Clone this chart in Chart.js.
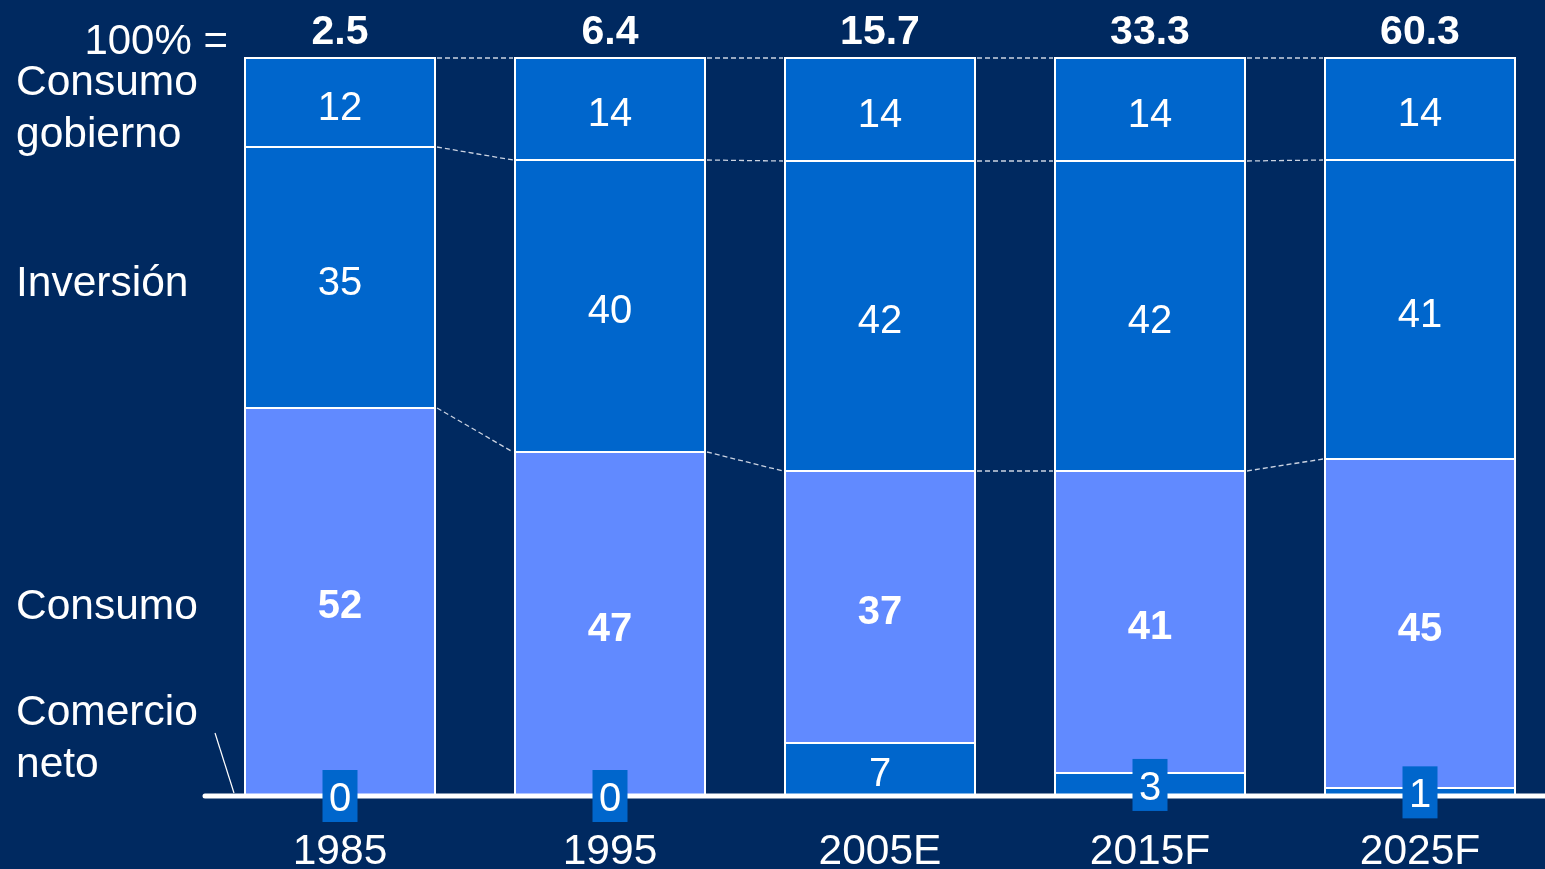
<!DOCTYPE html>
<html>
<head>
<meta charset="utf-8">
<script src="https://cdn.jsdelivr.net/npm/chart.js@4/dist/chart.umd.min.js"></script>
<style>
  html, body { margin: 0; padding: 0; background: #002960; overflow: hidden; }
  #wrap { width: 1560px; height: 869px; position: relative; }
</style>
</head>
<body>
<div id="wrap"><canvas id="c" width="1560" height="869"></canvas></div>
<script>
// ---- Data ----
const categories = ['1985', '1995', '2005E', '2015F', '2025F'];
const totals = ['2.5', '6.4', '15.7', '33.3', '60.3'];
const comercioNeto = [0, 0, 7, 3, 1];
const consumo = [52, 47, 37, 41, 45];
const inversion = [35, 40, 42, 42, 41];
const consumoGobierno = [12, 14, 14, 14, 14];
const seriesNames = ['Comercio neto', 'Consumo', 'Inversión', 'Consumo gobierno'];

const rawSeries = [comercioNeto, consumo, inversion, consumoGobierno];
// 100% stacked: each column scaled to its own sum
const colSums = categories.map((_, i) => rawSeries.reduce((s, arr) => s + arr[i], 0));
const share = rawSeries.map(arr => arr.map((v, i) => v / colSums[i] * 100));

const DARK = '#0066CC';
const LIGHT = '#618AFF';
const FONT = '"Liberation Sans", Arial, sans-serif';

const colors = [DARK, LIGHT, DARK, DARK];

const overlay = {
  id: 'overlay',
  afterDatasetsDraw(chart) {
    const ctx = chart.ctx;
    const x = chart.scales.x;
    const y = chart.scales.y;
    const metas = [0, 1, 2, 3].map(i => chart.getDatasetMeta(i));
    ctx.save();

    // crisp white segment boundaries
    ctx.strokeStyle = '#FFFFFF';
    ctx.lineWidth = 2;
    for (let d = 0; d < 4; d++) {
      metas[d].data.forEach(bar => {
        const yy = Math.round(bar.y);
        ctx.beginPath();
        ctx.moveTo(bar.x - bar.width / 2, yy);
        ctx.lineTo(bar.x + bar.width / 2, yy);
        ctx.stroke();
      });
    }

    // dashed connectors between bars (top, gov/inv, inv/cons)
    ctx.strokeStyle = 'rgba(225,230,240,0.9)';
    ctx.lineWidth = 1.3;
    ctx.setLineDash([5, 3]);
    const levels = [3, 2, 1];
    for (let i = 0; i < categories.length - 1; i++) {
      for (const d of levels) {
        const a = metas[d].data[i];
        const b = metas[d].data[i + 1];
        const ax = a.x + a.width / 2, bx = b.x - b.width / 2;
        ctx.beginPath();
        ctx.moveTo(ax + 1, Math.round(a.y));
        ctx.lineTo(bx - 1, Math.round(b.y));
        ctx.stroke();
      }
    }
    ctx.setLineDash([]);

    // axis line
    const base = y.getPixelForValue(0);
    ctx.strokeStyle = '#FFFFFF';
    ctx.lineWidth = 5;
    ctx.lineCap = 'round';
    ctx.beginPath();
    ctx.moveTo(205, base + 1);
    ctx.lineTo(chart.width, base + 1);
    ctx.stroke();
    ctx.lineCap = 'butt';

    // leader line for Comercio neto
    ctx.lineWidth = 1.2;
    ctx.beginPath();
    ctx.moveTo(215, 733);
    ctx.lineTo(234, 793);
    ctx.stroke();

    // value labels
    ctx.textAlign = 'center';
    ctx.textBaseline = 'middle';
    for (let d = 0; d < 4; d++) {
      const meta = metas[d];
      meta.data.forEach((bar, i) => {
        const v = rawSeries[d][i];
        const top = bar.y, bottom = bar.base;
        const cy = (top + bottom) / 2;
        const bold = d === 1;
        ctx.font = (bold ? 'bold ' : '') + '40px ' + FONT;
        let ty = cy + 6;
        if (d === 0 && (bottom - top) < 45) {
          const w = 35, h = 52;
          ctx.fillStyle = DARK;
          ctx.fillRect(bar.x - w / 2, cy - h / 2 + 1, w, h);
          ty = cy + 5;
        }
        ctx.fillStyle = '#FFFFFF';
        ctx.fillText(String(v), bar.x, ty);
      });
    }

    // totals above bars
    ctx.textBaseline = 'alphabetic';
    ctx.font = 'bold 41px ' + FONT;
    categories.forEach((c, i) => {
      ctx.fillText(totals[i], x.getPixelForValue(i), 44);
    });

    // category labels
    ctx.font = '42.5px ' + FONT;
    categories.forEach((c, i) => {
      ctx.fillText(c, x.getPixelForValue(i), 864);
    });

    // "100% ="
    ctx.textAlign = 'right';
    ctx.font = '42px ' + FONT;
    ctx.fillText('100% =', 228, 54);

    // series labels on the left
    ctx.textAlign = 'left';
    ctx.font = '42.5px ' + FONT;
    ctx.fillText('Consumo', 16, 95);
    ctx.fillText('gobierno', 16, 147);
    ctx.fillText('Inversión', 16, 296);
    ctx.fillText('Consumo', 16, 619);
    ctx.fillText('Comercio', 16, 725);
    ctx.fillText('neto', 16, 777);

    ctx.restore();
  }
};

new Chart(document.getElementById('c'), {
  type: 'bar',
  data: {
    labels: categories,
    datasets: share.map((vals, d) => ({
      label: seriesNames[d],
      data: vals,
      backgroundColor: colors[d],
      borderColor: '#FFFFFF',
      borderWidth: { left: 2, right: 2, top: 0, bottom: 0 },
      borderSkipped: false,
      barPercentage: 192 / 270,
      categoryPercentage: 1
    }))
  },
  options: {
    responsive: false,
    animation: false,
    events: [],
    layout: { padding: { left: 205, right: 5, top: 58, bottom: 74 } },
    plugins: { legend: { display: false }, tooltip: { enabled: false } },
    scales: {
      x: { stacked: true, display: false, offset: true },
      y: { stacked: true, display: false, min: 0, max: 100 }
    }
  },
  plugins: [overlay]
});
</script>
</body>
</html>
